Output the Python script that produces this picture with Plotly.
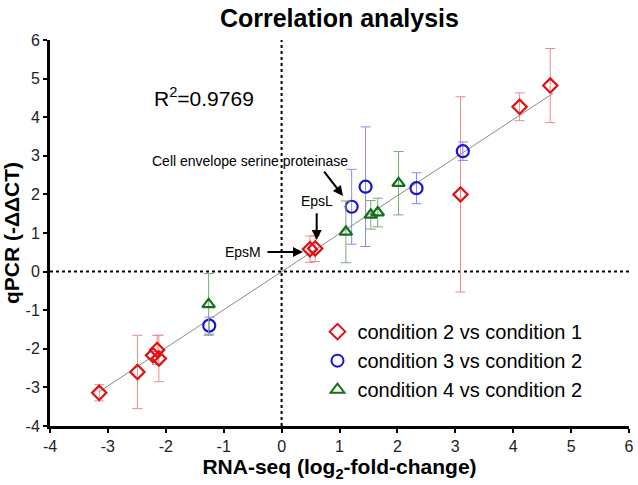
import plotly.graph_objects as go

# ---- data ----
c21_x = [-3.15, -2.49, -2.22, -2.15, -2.12, 0.49, 0.58, 3.09, 4.11, 4.64]
c21_y = [-3.14, -2.60, -2.17, -2.03, -2.25, 0.58, 0.60, 2.00, 4.27, 4.82]
c21_e = [0.21, 0.95, 0.10, 0.38, 0.60, 0.34, 0.34, 2.53, 0.36, 0.96]

c32_x = [-1.25, 1.21, 1.45, 2.33, 3.13]
c32_y = [-1.40, 1.68, 2.20, 2.16, 3.12]
c32_e = [0.22, 0.97, 1.55, 0.40, 0.24]

c42_x = [-1.26, 1.11, 1.54, 1.66, 2.02]
c42_y = [-0.85, 1.03, 1.47, 1.53, 2.29]
c42_e = [0.80, 0.80, 0.37, 0.37, 0.82]

fit_x = [-3.15, 4.69]
fit_y = [-3.11, 4.62]

names = ["condition 2 vs condition 1", "condition 3 vs condition 2", "condition 4 vs condition 2"]
ticks = [-4, -3, -2, -1, 0, 1, 2, 3, 4, 5, 6]

FONT = "Liberation Sans, Arial, sans-serif"

fig = go.Figure()

# regression line
fig.add_trace(go.Scatter(x=fit_x, y=fit_y, mode="lines",
                         line=dict(color="#8a8a8a", width=1), showlegend=False,
                         hoverinfo="skip"))

# reference dotted lines at 0
fig.add_trace(go.Scatter(x=[0, 0], y=[-4, 6], mode="lines",
                         line=dict(color="black", width=2, dash="dot"),
                         showlegend=False, hoverinfo="skip"))
fig.add_trace(go.Scatter(x=[-4, 6], y=[0, 0], mode="lines",
                         line=dict(color="black", width=2, dash="dot"),
                         showlegend=False, hoverinfo="skip"))

def series(xs, ys, es, name, sym, col, ecol, size):
    fig.add_trace(go.Scatter(
        x=xs, y=ys, mode="markers", name=name,
        marker=dict(symbol=sym, size=size, color=col, line=dict(width=2.2, color=col)),
        error_y=dict(type="data", array=es, visible=True, color=ecol,
                     thickness=1, width=5)))

series(c21_x, c21_y, c21_e, names[0], "diamond-open", "#e01010", "#f08a8a", 11)
series(c32_x, c32_y, c32_e, names[1], "circle-open", "#1515d8", "#8a8af0", 12)
series(c42_x, c42_y, c42_e, names[2], "triangle-up-open", "#14701a", "#7aa87a", 11)

axis_common = dict(
    range=[-4, 6], tickmode="array", tickvals=ticks, ticktext=[str(t) for t in ticks],
    showline=True, linewidth=3, linecolor="black", mirror=False,
    ticks="outside", ticklen=4, tickwidth=2, tickcolor="black",
    showgrid=False, zeroline=False, automargin=False,
    tickfont=dict(family=FONT, size=16, color="#222222"),
)

fig.update_layout(
    width=638, height=485,
    margin=dict(l=50, r=9, t=40, b=59),
    paper_bgcolor="white", plot_bgcolor="white",
    title=dict(text="<b>Correlation analysis</b>", x=0.532, xanchor="center",
               y=0.962, yanchor="middle",
               font=dict(family=FONT, size=25, color="black")),
    xaxis=dict(axis_common, title=dict(text="<b>RNA-seq (log<sub>2</sub>-fold-change)</b>",
                                       font=dict(family=FONT, size=21, color="black"),
                                       standoff=6)),
    yaxis=dict(axis_common, title=dict(text="<b>qPCR (-ΔΔCT)</b>",
                                       font=dict(family=FONT, size=21, color="black"),
                                       standoff=4)),
    legend=dict(x=0.462, y=0.295, xanchor="left", yanchor="top",
                bgcolor="rgba(0,0,0,0)", tracegroupgap=0,
                font=dict(family=FONT, size=20, color="black"),
                itemsizing="constant"),
    showlegend=True,
)

ann_font = dict(family=FONT, size=14, color="black")
fig.add_annotation(x=-2.24, y=4.52, xanchor="left", yanchor="middle", showarrow=False,
                   text="R<sup>2</sup>=0.9769", font=dict(family=FONT, size=21, color="black"))
fig.add_annotation(x=-0.54, y=2.87, showarrow=False, text="Cell envelope serine proteinase",
                   font=ann_font)
fig.add_annotation(x=1.06, y=1.96, ax=0.715, ay=2.63, axref="x", ayref="y", text="",
                   showarrow=True, arrowhead=2, arrowsize=1, arrowwidth=2, arrowcolor="black")
fig.add_annotation(x=0.61, y=1.83, showarrow=False, text="EpsL", font=ann_font)
fig.add_annotation(x=0.606, y=0.82, ax=0.606, ay=1.55, axref="x", ayref="y", text="",
                   showarrow=True, arrowhead=2, arrowsize=1, arrowwidth=2, arrowcolor="black")
fig.add_annotation(x=-0.67, y=0.50, showarrow=False, text="EpsM", font=ann_font)
fig.add_annotation(x=0.37, y=0.51, ax=-0.27, ay=0.51, axref="x", ayref="y", text="",
                   showarrow=True, arrowhead=2, arrowsize=1, arrowwidth=2, arrowcolor="black")

# remove the browser's default 8px body margin so the figure fills the window
fig.write_html("out.html", config={"displayModeBar": False},
               post_script="document.body.style.margin='0';")
